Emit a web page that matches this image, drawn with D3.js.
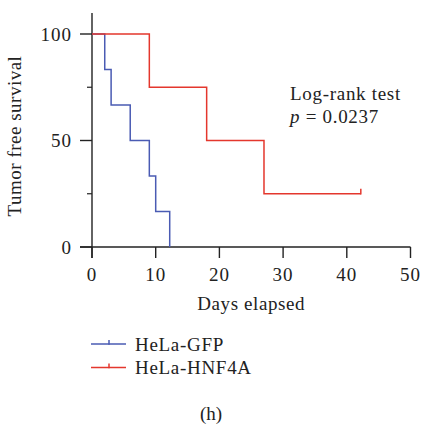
<!DOCTYPE html>
<html lang="en">
<head>
<meta charset="utf-8" />
<title>Tumor free survival</title>
<style>
  body { margin: 0; background: #fff; }
  svg text { font-family: "Liberation Serif", "DejaVu Serif", serif; fill: #222; font-size: 19px; }
</style>
</head>
<body>
<div id="chart"></div>
<script src="https://cdnjs.cloudflare.com/ajax/libs/d3/7.4.4/d3.min.js"></script>
<script>
// Kaplan-Meier steps: [day, survival %]
var gfpSteps = [[0, 100], [2, 83.3], [3, 66.7], [6, 50], [9, 33.3], [10, 16.7], [12.2, 0]];
var hnfSteps = [[0, 100], [9, 75], [18, 50], [27, 25], [42.2, 25]];
var hnfCensor = [42.2];
var xTicks = [0, 10, 20, 30, 40, 50];
var yMajor = [0, 50, 100];
var yMinor = [25, 75];
var seriesNames = ["HeLa-GFP", "HeLa-HNF4A"];
var seriesColors = ["#4a5bb3", "#e4372d"];

var W = 433, H = 427;
var svg = d3.select("#chart").append("svg")
  .attr("width", W).attr("height", H);

var x = d3.scaleLinear().domain([0, 50]).range([92, 410.5]);
var y = d3.scaleLinear().domain([0, 100]).range([247, 34]);

var axisColor = "#222";

// y axis
svg.append("line")
  .attr("x1", x(0)).attr("x2", x(0))
  .attr("y1", 13).attr("y2", 258)
  .attr("stroke", axisColor).attr("stroke-width", 1.4);

svg.selectAll(".ymaj").data(yMajor).enter().append("line")
  .attr("x1", 80).attr("x2", x(0))
  .attr("y1", d => y(d)).attr("y2", d => y(d))
  .attr("stroke", axisColor).attr("stroke-width", 1.4);

svg.selectAll(".ymin").data(yMinor).enter().append("line")
  .attr("x1", 87).attr("x2", x(0))
  .attr("y1", d => y(d)).attr("y2", d => y(d))
  .attr("stroke", axisColor).attr("stroke-width", 1.2);

svg.selectAll(".ylab").data(yMajor).enter().append("text")
  .attr("x", 72).attr("y", d => y(d))
  .attr("dy", "0.35em")
  .attr("text-anchor", "end")
  .attr("letter-spacing", "1px")
  .text(d => d);

// x axis
svg.append("line")
  .attr("x1", 80).attr("x2", x(50))
  .attr("y1", y(0)).attr("y2", y(0))
  .attr("stroke", axisColor).attr("stroke-width", 1.4);

svg.selectAll(".xt").data(xTicks).enter().append("line")
  .attr("x1", d => x(d)).attr("x2", d => x(d))
  .attr("y1", y(0)).attr("y2", 258)
  .attr("stroke", axisColor).attr("stroke-width", 1.4);

svg.selectAll(".xlab").data(xTicks).enter().append("text")
  .attr("x", d => x(d)).attr("y", 274)
  .attr("dy", "0.35em")
  .attr("text-anchor", "middle")
  .attr("letter-spacing", "1px")
  .text(d => d);

svg.append("text")
  .attr("x", x(25)).attr("y", 303)
  .attr("dy", "0.35em")
  .attr("text-anchor", "middle")
  .attr("letter-spacing", "0.6px")
  .text("Days elapsed");

svg.append("text")
  .attr("transform", "translate(14," + 136 + ") rotate(-90)")
  .attr("dy", "0.35em")
  .attr("text-anchor", "middle")
  .attr("letter-spacing", "0.5px")
  .text("Tumor free survival");

// curves
var line = d3.line()
  .x(d => x(d[0])).y(d => y(d[1]))
  .curve(d3.curveStepAfter);

[gfpSteps, hnfSteps].forEach(function (s, i) {
  svg.append("path")
    .attr("d", line(s))
    .attr("fill", "none")
    .attr("stroke", seriesColors[i])
    .attr("stroke-width", 1.5);
});

svg.selectAll(".censor").data(hnfCensor).enter().append("line")
  .attr("x1", d => x(d)).attr("x2", d => x(d))
  .attr("y1", y(25) + 0.7).attr("y2", y(25) - 5)
  .attr("stroke", seriesColors[1]).attr("stroke-width", 1.5);

// annotation
svg.append("text")
  .attr("x", 290).attr("y", 93)
  .attr("dy", "0.35em")
  .attr("letter-spacing", "0.7px")
  .text("Log-rank test");

var pt = svg.append("text")
  .attr("x", 290).attr("y", 116)
  .attr("dy", "0.35em")
  .attr("letter-spacing", "0.7px");
pt.append("tspan").attr("font-style", "italic").text("p");
pt.append("tspan").text(" = 0.0237");

// legend
var leg = svg.selectAll(".leg").data(seriesNames).enter().append("g")
  .attr("transform", (d, i) => "translate(0," + (344 + i * 23.5) + ")");
leg.append("line")
  .attr("x1", 91).attr("x2", 126)
  .attr("stroke", (d, i) => seriesColors[i]).attr("stroke-width", 1.5);
leg.append("line")
  .attr("x1", 109).attr("x2", 109)
  .attr("y1", 0.7).attr("y2", -4)
  .attr("stroke", (d, i) => seriesColors[i]).attr("stroke-width", 1.5);
leg.append("text")
  .attr("x", 135)
  .attr("dy", "0.35em")
  .attr("letter-spacing", "0.7px")
  .text(d => d);

svg.append("text")
  .attr("x", 211).attr("y", 413)
  .attr("dy", "0.35em")
  .attr("text-anchor", "middle")
  .text("(h)");
</script>
</body>
</html>
